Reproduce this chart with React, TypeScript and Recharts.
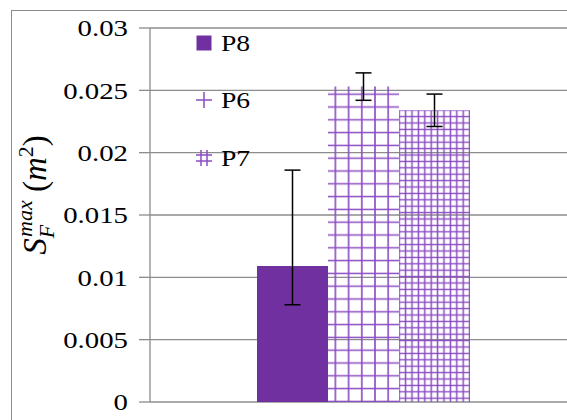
import React from "react";
import { BarChart, Bar, XAxis, YAxis, CartesianGrid, ErrorBar } from "recharts";

const categories = [""];
const p8Values = [0.0109];
const p8ErrLow = [0.0031];
const p8ErrHigh = [0.0077];
const p6Values = [0.0253];
const p6Err = [0.0011];
const p7Values = [0.0234];
const p7Err = [0.0013];
const yTicks = [0, 0.005, 0.01, 0.015, 0.02, 0.025, 0.03];
const legendNames = ["P8", "P6", "P7"];

const data = categories.map((c, i) => ({
  cat: c,
  p8: p8Values[i],
  p8Err: [p8ErrLow[i], p8ErrHigh[i]],
  p6: p6Values[i],
  p6Err: p6Err[i],
  p7: p7Values[i],
  p7Err: p7Err[i],
}));

const FONT = '"Liberation Serif", monospace';
const PURPLE = "#7030A0";
const LINE = "#8a4cc2";
const GRAY = "#8c8c8c";

function YTick(props: any) {
  const { x, y, payload } = props;
  return (
    <text
      x={0}
      y={0}
      transform={`translate(${x},${y}) scale(1.2,1)`}
      textAnchor="end"
      dy="0.35em"
      fontSize={24}
      fill="#000"
      style={{ fontFamily: FONT }}
    >
      {String(payload.value)}
    </text>
  );
}

function YLabel(props: any) {
  const vb = props.viewBox || { x: 0, y: 0, height: 0 };
  const cx = vb.x + 34;
  const cy = vb.y + vb.height / 2 - 20;
  return (
    <text
      x={cx}
      y={cy}
      transform={`rotate(-90, ${cx}, ${cy})`}
      textAnchor="middle"
      fontSize={33}
      fill="#000"
      style={{ fontFamily: FONT }}
    >
      <tspan fontStyle="italic">S</tspan>
      <tspan fontStyle="italic" fontSize={22} dy={8}>F</tspan>
      <tspan fontStyle="italic" fontSize={22} dx={-12} dy={-22}>max</tspan>
      <tspan dy={14}> (</tspan>
      <tspan fontStyle="italic">m</tspan>
      <tspan fontSize={22} dy={-13}>2</tspan>
      <tspan dy={13}>)</tspan>
    </text>
  );
}

function LegendIcon({ idx }: { idx: number }) {
  if (idx === 0) {
    return (
      <svg width={16} height={16}>
        <rect x={0.5} y={0.5} width={15} height={15} fill={PURPLE} />
      </svg>
    );
  }
  if (idx === 1) {
    return (
      <svg width={16} height={16}>
        <line x1={8} y1={0} x2={8} y2={16} stroke={LINE} strokeWidth={1.5} />
        <line x1={0} y1={8} x2={16} y2={8} stroke={LINE} strokeWidth={1.5} />
      </svg>
    );
  }
  return (
    <svg width={16} height={16}>
      <line x1={5} y1={0} x2={5} y2={16} stroke={LINE} strokeWidth={1.5} />
      <line x1={11} y1={0} x2={11} y2={16} stroke={LINE} strokeWidth={1.5} />
      <line x1={0} y1={5} x2={16} y2={5} stroke={LINE} strokeWidth={1.5} />
      <line x1={0} y1={11} x2={16} y2={11} stroke={LINE} strokeWidth={1.5} />
    </svg>
  );
}

export default function App() {
  return (
    <div
      style={{
        position: "absolute",
        left: 0,
        top: 0,
        width: 567,
        height: 420,
        overflow: "hidden",
        background: "#fff",
      }}
    >
      <div
        style={{
          position: "absolute",
          left: 11,
          top: 10,
          width: 600,
          height: 450,
          borderLeft: `1px solid ${GRAY}`,
          borderTop: `1px solid ${GRAY}`,
        }}
      >
        <BarChart
          width={600}
          height={420}
          data={data}
          margin={{ top: 17, right: 36, left: 0, bottom: 29 }}
          barSize={71}
          barGap={0}
        >
          <defs>
            <pattern id="gridLarge" patternUnits="userSpaceOnUse" width={13.2} height={12.8}>
              <path d="M6.6 0 V12.8 M0 6.4 H13.2" stroke={LINE} strokeWidth={1.6} fill="none" />
            </pattern>
            <pattern id="gridSmall" patternUnits="userSpaceOnUse" width={6.4} height={6.4}>
              <path d="M3.2 0 V6.4 M0 3.2 H6.4" stroke={LINE} strokeWidth={1.5} fill="none" />
            </pattern>
          </defs>
          <CartesianGrid vertical={false} stroke={GRAY} strokeWidth={1.3} />
          <XAxis dataKey="cat" hide />
          <YAxis
            width={138}
            domain={[0, 0.03]}
            ticks={yTicks}
            interval={0}
            axisLine={{ stroke: GRAY, strokeWidth: 1.3 }}
            tickLine={{ stroke: GRAY, strokeWidth: 1.3 }}
            tickSize={11}
            tickMargin={11}
            tick={<YTick />}
            label={{ content: YLabel }}
          />
          <Bar dataKey="p8" name={legendNames[0]} fill={PURPLE} isAnimationActive={false}>
            <ErrorBar dataKey="p8Err" width={8} stroke="#000" strokeWidth={1.5} direction="y" />
          </Bar>
          <Bar dataKey="p6" name={legendNames[1]} fill="url(#gridLarge)" isAnimationActive={false}>
            <ErrorBar dataKey="p6Err" width={8} stroke="#000" strokeWidth={1.5} direction="y" />
          </Bar>
          <Bar dataKey="p7" name={legendNames[2]} fill="url(#gridSmall)" isAnimationActive={false}>
            <ErrorBar dataKey="p7Err" width={8} stroke="#000" strokeWidth={1.5} direction="y" />
          </Bar>
        </BarChart>
        <div
          style={{
            position: "absolute",
            left: 184,
            top: 17,
            fontSize: 24,
            fontFamily: FONT,
          }}
        >
          {legendNames.map((n, i) => (
            <div
              key={n}
              style={{ display: "flex", alignItems: "center", height: 57.5, marginTop: i === 0 ? -14 : 0 }}
            >
              <LegendIcon idx={i} />
              <span
                style={{
                  marginLeft: 9,
                  lineHeight: 1,
                  display: "inline-block",
                  transform: "scaleX(1.15)",
                  transformOrigin: "left center",
                }}
              >
                {n}
              </span>
            </div>
          ))}
        </div>
      </div>
    </div>
  );
}
